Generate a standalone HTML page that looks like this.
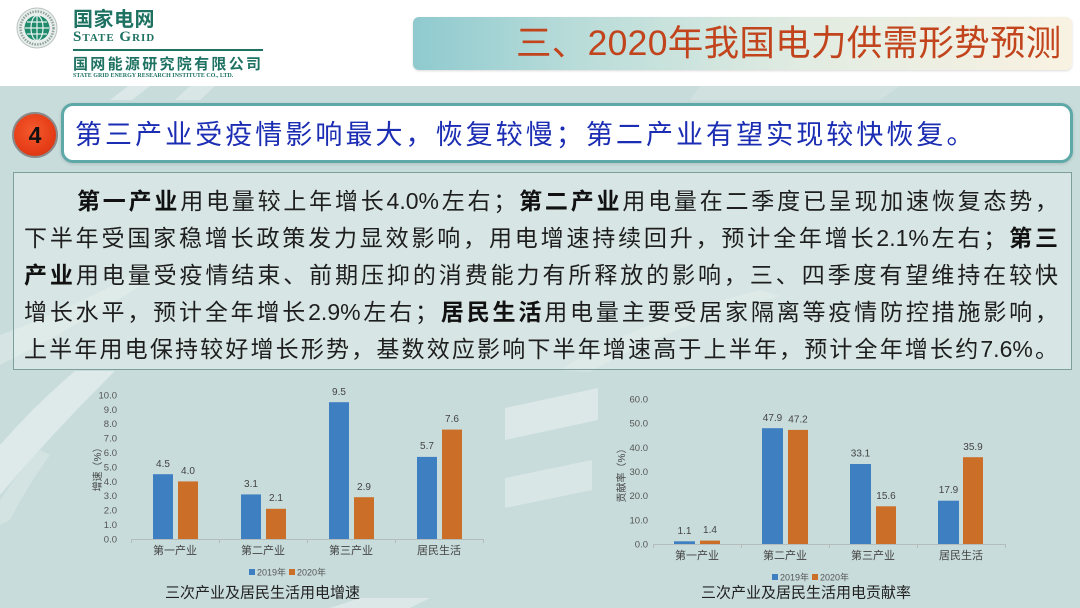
<!DOCTYPE html>
<html><head><meta charset="utf-8">
<style>
*{margin:0;padding:0;box-sizing:border-box}
html,body{width:1080px;height:608px;overflow:hidden;background:#fff}
body{position:relative;font-family:"Liberation Sans","Noto Sans CJK SC",sans-serif}
.abs{position:absolute}
#band{left:0;top:86px;width:1080px;height:522px;background:#c8dcdb}
#titlebox{left:413px;top:17px;width:659px;height:53px;border-radius:6px;
 background:linear-gradient(90deg,#8fcacf 0%,#b9dcd9 25%,#e2ece2 60%,#f9f2e2 100%);
 box-shadow:0 1px 2px rgba(0,0,0,.15)}
#title{left:516px;top:21px;font-size:35.5px;letter-spacing:0.3px;color:#c1441c;white-space:nowrap;line-height:44px;font-family:"Liberation Sans","Noto Sans CJK SC",sans-serif}
#head{left:61px;top:103px;width:1012px;height:60px;border:3px solid #5ea9a8;border-radius:12px;background:#fff;box-shadow:0 1px 3px rgba(0,0,0,.15)}
#headtxt{left:75px;top:116px;font-size:27px;letter-spacing:3.05px;color:#1b2db3;white-space:nowrap;line-height:38px}
#badge{left:12px;top:112px;width:46px;height:46px;border-radius:50%;background:radial-gradient(circle at 45% 40%,#f55a2e 0%,#e63d17 60%,#c8300f 100%);border:2px solid #8a8a8a;text-align:center;line-height:42px;font-size:23px;font-weight:bold;color:#111}
#tbox{left:13px;top:172px;width:1059px;height:198px;border:1.5px solid #7c9f9c;background:rgba(232,241,240,.45)}
#txt{left:24px;top:183px;width:1034px;font-size:23px;line-height:37px;color:#1e1e1e}
#txt div{text-align:justify;text-align-last:justify;white-space:nowrap;overflow:visible}
#txt b{font-weight:bold;color:#111}
.logo1{left:73px;top:8px;font-size:20px;font-weight:bold;color:#1e7262;letter-spacing:.5px;line-height:24px;white-space:nowrap}
.logo2{left:73px;top:30px;font-family:"Liberation Serif",serif;font-weight:bold;font-variant:small-caps;font-size:15px;color:#1e7262;letter-spacing:1px;line-height:14px;white-space:nowrap}
.logo3{left:73px;top:56px;font-size:15px;font-weight:bold;color:#1e7262;letter-spacing:2.3px;line-height:17px;white-space:nowrap}
.logo4{left:73px;top:73px;font-family:"Liberation Serif",serif;font-weight:bold;font-size:6px;color:#1e7262;line-height:6px;white-space:nowrap}
#line{left:73px;top:49px;width:190px;height:1.5px;background:#1e7262}
</style></head>
<body>
<div id="band" class="abs"></div>
<svg class="abs" style="left:0;top:0" width="1080" height="608" viewBox="0 0 1080 608">
 <g fill="#ffffff">
  <polygon points="128,86 150,86 132,100 110,100" opacity=".35"/>
  <polygon points="190,86 215,86 200,100 175,100" opacity=".3"/>
  <polygon points="700,86 900,86 880,100 690,100" opacity=".15"/>
  <path d="M0,335 Q70,310 140,270 L150,280 Q70,330 0,365 Z" opacity=".25"/>
  <path d="M75,371 L115,371 Q55,430 0,495 L0,445 Q35,405 75,371 Z" opacity=".4"/>
  <path d="M0,500 Q20,470 40,450 L50,455 Q25,490 10,520 L0,525 Z" opacity=".2"/>
  <polygon points="505,408 598,388 598,420 505,440" opacity=".35"/>
  <polygon points="505,478 592,460 592,490 505,508" opacity=".3"/>
  <path d="M560,370 Q640,320 760,290 L780,296 Q660,330 590,372 Z" opacity=".2"/>
  <polygon points="330,608 360,598 430,598 410,608" opacity=".35"/>
 </g>
 <g>
  <circle cx="37" cy="28" r="20" fill="#e9eeec" stroke="#b9c4c0" stroke-width="1"/>
  <circle cx="37" cy="28" r="16.5" fill="none" stroke="#8fa39c" stroke-width="2.5" stroke-dasharray="1.5 1.2"/>
  <circle cx="37" cy="28" r="12.5" fill="#1f8a6c"/>
  <path d="M25,28 H49 M27,22 H47 M27,34 H47 M37,15.5 V40.5" stroke="#e6f2ee" stroke-width="1.2" fill="none"/>
  <ellipse cx="37" cy="28" rx="6" ry="12.5" fill="none" stroke="#e6f2ee" stroke-width="1.2"/>
 </g>
 <g font-family="Liberation Sans, Noto Sans CJK SC, sans-serif">
  <g font-size="9.5" fill="#555" text-anchor="end">
   <text x="117" y="542.5">0.0</text>
   <text x="117" y="528">1.0</text>
   <text x="117" y="513.6">2.0</text>
   <text x="117" y="499.2">3.0</text>
   <text x="117" y="484.8">4.0</text>
   <text x="117" y="470.4">5.0</text>
   <text x="117" y="456">6.0</text>
   <text x="117" y="441.6">7.0</text>
   <text x="117" y="427.2">8.0</text>
   <text x="117" y="412.8">9.0</text>
   <text x="117" y="398.4">10.0</text>
  </g>
  <text transform="translate(101,467) rotate(-90)" font-size="10" fill="#444" text-anchor="middle">增速（%）</text>
  <line x1="131" y1="539.5" x2="484" y2="539.5" stroke="#b5bdbc" stroke-width="1"/>
  <g stroke="#b5bdbc" stroke-width="1">
   <line x1="131.5" y1="539" x2="131.5" y2="543"/><line x1="219.5" y1="539" x2="219.5" y2="543"/>
   <line x1="307.5" y1="539" x2="307.5" y2="543"/><line x1="395.5" y1="539" x2="395.5" y2="543"/>
   <line x1="483.5" y1="539" x2="483.5" y2="543"/>
  </g>
  <g fill="#3e7fc2">
   <rect x="153" y="474.2" width="20" height="64.8"/>
   <rect x="241" y="494.4" width="20" height="44.6"/>
   <rect x="329" y="402.2" width="20" height="136.8"/>
   <rect x="417" y="456.9" width="20" height="82.1"/>
  </g>
  <g fill="#cb6f28">
   <rect x="178" y="481.4" width="20" height="57.6"/>
   <rect x="266" y="508.8" width="20" height="30.2"/>
   <rect x="354" y="497.2" width="20" height="41.8"/>
   <rect x="442" y="429.6" width="20" height="109.4"/>
  </g>
  <g font-size="10" fill="#444" text-anchor="middle">
   <text x="163" y="467">4.5</text><text x="188" y="474">4.0</text>
   <text x="251" y="487">3.1</text><text x="276" y="501">2.1</text>
   <text x="339" y="395">9.5</text><text x="364" y="490">2.9</text>
   <text x="427" y="449">5.7</text><text x="452" y="422">7.6</text>
  </g>
  <g font-size="11" fill="#444" text-anchor="middle">
   <text x="175" y="554">第一产业</text><text x="263" y="554">第二产业</text>
   <text x="351" y="554">第三产业</text><text x="439" y="554">居民生活</text>
  </g>
  <rect x="249" y="569" width="6" height="6" fill="#3e7fc2"/>
  <text x="257" y="575.5" font-size="9" fill="#555">2019年</text>
  <rect x="289" y="569" width="6" height="6" fill="#cb6f28"/>
  <text x="297" y="575.5" font-size="9" fill="#555">2020年</text>
  <text x="262.5" y="597.5" font-size="15" fill="#222" text-anchor="middle">三次产业及居民生活用电增速</text>
 </g>
 <g font-family="Liberation Sans, Noto Sans CJK SC, sans-serif">
  <g font-size="9.5" fill="#555" text-anchor="end">
   <text x="648" y="547.5">0.0</text>
   <text x="648" y="523.3">10.0</text>
   <text x="648" y="499.2">20.0</text>
   <text x="648" y="475">30.0</text>
   <text x="648" y="450.8">40.0</text>
   <text x="648" y="426.7">50.0</text>
   <text x="648" y="402.5">60.0</text>
  </g>
  <text transform="translate(625,473) rotate(-90)" font-size="10" fill="#444" text-anchor="middle">贡献率（%）</text>
  <line x1="653" y1="544.5" x2="1006" y2="544.5" stroke="#b5bdbc" stroke-width="1"/>
  <g stroke="#b5bdbc" stroke-width="1">
   <line x1="653.5" y1="544" x2="653.5" y2="548"/><line x1="741.5" y1="544" x2="741.5" y2="548"/>
   <line x1="829.5" y1="544" x2="829.5" y2="548"/><line x1="917.5" y1="544" x2="917.5" y2="548"/>
   <line x1="1005.5" y1="544" x2="1005.5" y2="548"/>
  </g>
  <g fill="#3e7fc2">
   <rect x="674" y="541.3" width="21" height="2.7"/>
   <rect x="762" y="428.2" width="21" height="115.8"/>
   <rect x="850" y="464" width="21" height="80"/>
   <rect x="938" y="500.7" width="21" height="43.3"/>
  </g>
  <g fill="#cb6f28">
   <rect x="700" y="540.6" width="20" height="3.4"/>
   <rect x="788" y="429.9" width="20" height="114.1"/>
   <rect x="876" y="506.3" width="20" height="37.7"/>
   <rect x="963" y="457.2" width="20" height="86.8"/>
  </g>
  <g font-size="10" fill="#444" text-anchor="middle">
   <text x="684.5" y="534">1.1</text><text x="710" y="533">1.4</text>
   <text x="772.5" y="421">47.9</text><text x="798" y="422.5">47.2</text>
   <text x="860.5" y="456.5">33.1</text><text x="886" y="499">15.6</text>
   <text x="948.5" y="493">17.9</text><text x="973" y="450">35.9</text>
  </g>
  <g font-size="11" fill="#444" text-anchor="middle">
   <text x="697" y="559">第一产业</text><text x="785" y="559">第二产业</text>
   <text x="873" y="559">第三产业</text><text x="961" y="559">居民生活</text>
  </g>
  <rect x="772" y="574" width="6" height="6" fill="#3e7fc2"/>
  <text x="780" y="580.5" font-size="9" fill="#555">2019年</text>
  <rect x="812" y="574" width="6" height="6" fill="#cb6f28"/>
  <text x="820" y="580.5" font-size="9" fill="#555">2020年</text>
  <text x="806" y="597.5" font-size="15" fill="#222" text-anchor="middle">三次产业及居民生活用电贡献率</text>
 </g>
</svg>

<div class="abs logo1">国家电网</div>
<div class="abs logo2">State Grid</div>
<div id="line" class="abs"></div>
<div class="abs logo3">国网能源研究院有限公司</div>
<div class="abs logo4">STATE GRID ENERGY RESEARCH INSTITUTE CO., LTD.</div>

<div id="titlebox" class="abs"></div>
<div id="title" class="abs">三、2020年我国电力供需形势预测</div>

<div id="head" class="abs"></div>
<div id="headtxt" class="abs">第三产业受疫情影响最大，恢复较慢；第二产业有望实现较快恢复。</div>
<div id="badge" class="abs">4</div>

<div id="tbox" class="abs"></div>
<div id="txt" class="abs">
 <div style="padding-left:53px"><b>第一产业</b>用电量较上年增长4.0%左右；<b>第二产业</b>用电量在二季度已呈现加速恢复态势，</div>
 <div>下半年受国家稳增长政策发力显效影响，用电增速持续回升，预计全年增长2.1%左右；<b>第三</b></div>
 <div><b>产业</b>用电量受疫情结束、前期压抑的消费能力有所释放的影响，三、四季度有望维持在较快</div>
 <div>增长水平，预计全年增长2.9%左右；<b>居民生活</b>用电量主要受居家隔离等疫情防控措施影响，</div>
 <div>上半年用电保持较好增长形势，基数效应影响下半年增速高于上半年，预计全年增长约7.6%。</div>
</div>
</body></html>
